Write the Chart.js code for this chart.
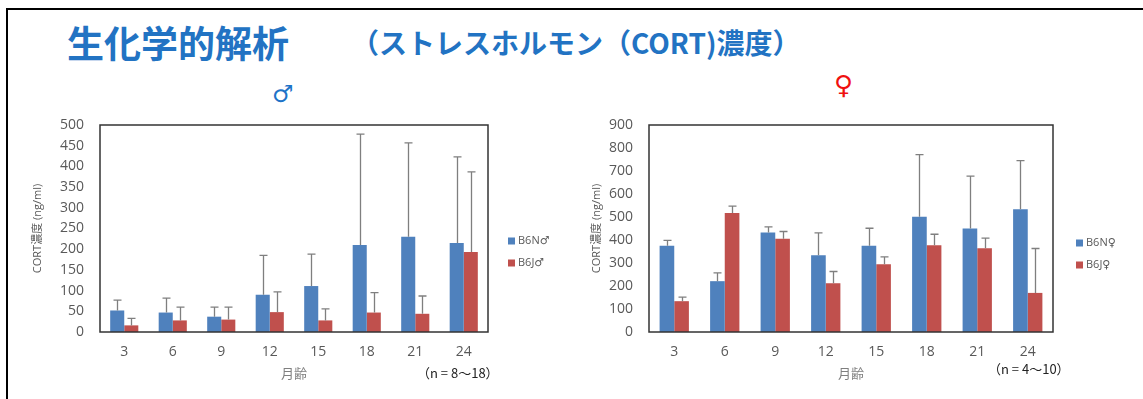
<!DOCTYPE html>
<html>
<head>
<meta charset="utf-8">
<script src="https://cdn.jsdelivr.net/npm/chart.js@4.4.1/dist/chart.umd.min.js"></script>
<style>
  html, body { margin: 0; padding: 0; background: #fff; }
  body { width: 1143px; height: 399px; overflow: hidden; position: relative;
         font-family: "Noto Sans CJK JP", "Noto Sans", sans-serif; }
  .frame { position: absolute; left: 6px; top: 8px; width: 1300px; height: 500px;
           border-top: 2px solid #000; border-left: 2px solid #000; }
  .heading { position: absolute; left: 67px; top: 24px; font-size: 37px; line-height: 1;
             font-weight: bold; color: #2273c3; white-space: nowrap; }
  .subheading { position: absolute; left: 351px; top: 28px; font-size: 28px; line-height: 1;
                font-weight: bold; color: #2273c3; white-space: nowrap; }
  .sex { position: absolute; font-family: "DejaVu Sans", sans-serif; line-height: 1; }
  .male { left: 272px; top: 82px; font-size: 24px; color: #1e73c8; }
  .female { left: 834px; top: 72px; font-size: 26px; color: #f01010; }
  .note { position: absolute; font-size: 13px; line-height: 1; color: #222; white-space: nowrap; }
  .chartbox { position: absolute; }
</style>
</head>
<body>
<div class="frame"></div>
<div class="heading">生化学的解析</div>
<div class="subheading">（ストレスホルモン（CORT)濃度）</div>
<div class="sex male">♂</div>
<div class="sex female">♀</div>

<div class="chartbox" style="left:20px; top:110px; width:560px; height:280px;">
  <canvas id="maleChart" width="560" height="280"></canvas>
</div>
<div class="chartbox" style="left:580px; top:110px; width:563px; height:280px;">
  <canvas id="femaleChart" width="563" height="280"></canvas>
</div>

<div class="note" style="left:417px; top:366px;">（n = 8〜18）</div>
<div class="note" style="left:988px; top:362px;">（n = 4〜10）</div>

<script>
// Age in months
const months = ['3', '6', '9', '12', '15', '18', '21', '24'];

// Male CORT concentration (ng/ml): means and SD
const maleB6N   = [52, 47, 37, 90, 111, 210, 230, 215];
const maleB6NSd = [25, 35, 23, 95, 77, 268, 227, 208];
const maleB6J   = [16, 28, 30, 48, 28, 47, 44, 193];
const maleB6JSd = [17, 32, 30, 49, 28, 48, 43, 194];

// Female CORT concentration (ng/ml): means and SD
const femaleB6N   = [375, 221, 433, 334, 375, 501, 450, 534];
const femaleB6NSd = [23, 36, 24, 97, 76, 270, 228, 211];
const femaleB6J   = [134, 517, 405, 212, 295, 377, 364, 170];
const femaleB6JSd = [18, 30, 32, 51, 32, 48, 44, 193];

// Axis ranges
const maleMax = 500, maleStep = 50;
const femaleMax = 900, femaleStep = 100;

const BLUE = '#4f81bd';
const RED = '#c0504d';
const TICK = '#595959';

Chart.defaults.font.family = "'Open Sans', 'Noto Sans CJK JP', sans-serif";
Chart.defaults.animation = false;

// Upward SD whiskers with a cap
const errorBars = {
  id: 'errorBars',
  afterDatasetsDraw(chart) {
    const ctx = chart.ctx;
    const y = chart.scales.y;
    ctx.save();
    ctx.strokeStyle = '#7f7f7f';
    ctx.lineWidth = 1.3;
    chart.data.datasets.forEach((ds, i) => {
      const meta = chart.getDatasetMeta(i);
      meta.data.forEach((bar, j) => {
        const top = y.getPixelForValue(ds.data[j] + ds.sd[j]);
        const x = Math.round(bar.x) + 0.5;
        ctx.beginPath();
        ctx.moveTo(x, bar.y);
        ctx.lineTo(x, top);
        ctx.moveTo(x - 4, top);
        ctx.lineTo(x + 4, top);
        ctx.stroke();
      });
    });
    ctx.restore();
  }
};

// Plot frame and side legend
const frameAndLegend = {
  id: 'frameAndLegend',
  afterDraw(chart, args, opts) {
    const ctx = chart.ctx;
    const a = chart.chartArea;
    ctx.save();
    ctx.strokeStyle = '#333';
    ctx.lineWidth = 1.5;
    ctx.strokeRect(a.left, a.top, a.right - a.left, a.bottom - a.top);
    ctx.font = "11px 'Open Sans', 'DejaVu Sans', sans-serif";
    ctx.textBaseline = 'middle';
    chart.data.datasets.forEach((ds, i) => {
      const lx = a.right + opts.dx;
      const ly = a.top + opts.dy + i * opts.gap;
      ctx.fillStyle = ds.backgroundColor;
      ctx.fillRect(lx, ly - 3.5, 7, 7);
      ctx.fillStyle = TICK;
      ctx.fillText(ds.label, lx + 10, ly);
    });
    ctx.restore();
  }
};

function makeChart(id, n, j, nSd, jSd, sym, max, step, padRight, yWidth, yTitlePad, legendDx, legendDy) {
  return new Chart(document.getElementById(id), {
    type: 'bar',
    data: {
      labels: months,
      datasets: [
        { label: 'B6N' + sym, data: n, sd: nSd, backgroundColor: BLUE, borderWidth: 0,
          categoryPercentage: 0.58, barPercentage: 1.0 },
        { label: 'B6J' + sym, data: j, sd: jSd, backgroundColor: RED, borderWidth: 0,
          categoryPercentage: 0.58, barPercentage: 1.0 }
      ]
    },
    options: {
      responsive: false,
      maintainAspectRatio: false,
      layout: { padding: { top: 15, right: padRight, left: 0, bottom: 0 } },
      plugins: {
        legend: { display: false },
        tooltip: { enabled: false },
        frameAndLegend: { dx: legendDx, dy: legendDy, gap: 22 }
      },
      scales: {
        x: {
          grid: { display: false, drawTicks: false },
          border: { display: false },
          ticks: { color: TICK, font: { size: 14 }, padding: 12 },
          title: { display: true, text: '月齢', color: '#7f7f7f',
                   font: { size: 13, family: "'Noto Sans CJK JP', sans-serif" },
                   padding: { top: 0, bottom: 9 } },
          afterFit(scale) { scale.height = 58; }
        },
        y: {
          min: 0, max: max,
          grid: { display: false, drawTicks: false },
          border: { display: false },
          ticks: { stepSize: step, autoSkip: false, color: TICK, font: { size: 14 }, padding: 16 },
          title: { display: true, text: 'CORT濃度 (ng/ml)', color: TICK,
                   font: { size: 11, family: "'Open Sans', 'Noto Sans CJK JP', sans-serif" },
                   padding: { top: yTitlePad, bottom: 0 } },
          afterFit(scale) {
            scale.width = yWidth;
            scale.paddingTop = 0;
            scale.paddingBottom = 0;
          }
        }
      }
    },
    plugins: [errorBars, frameAndLegend]
  });
}

makeChart('maleChart', maleB6N, maleB6J, maleB6NSd, maleB6JSd, '♂',
          maleMax, maleStep, 92, 80, 11, 20, 116);
makeChart('femaleChart', femaleB6N, femaleB6J, femaleB6NSd, femaleB6JSd, '♀',
          femaleMax, femaleStep, 90, 69, 10, 23, 118);
</script>
</body>
</html>
